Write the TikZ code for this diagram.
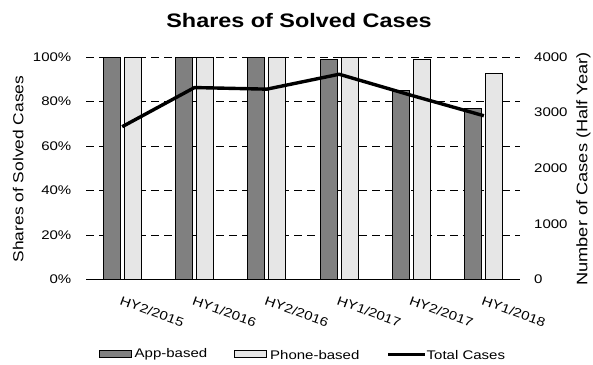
\documentclass[tikz,border=0pt]{standalone}
\usepackage{fontspec}
\setmainfont{Liberation Sans}[FakeStretch=1.2]
\usetikzlibrary{calc}

\definecolor{appgray}{RGB}{128,128,128}
\definecolor{phonegray}{RGB}{230,230,230}
\tikzset{
  appbar/.style={draw=black, line width=0.9pt, fill=appgray},
  phonebar/.style={draw=black, line width=0.9pt, fill=phonegray},
  gridline/.style={black, line width=0.9pt, dash pattern=on 8pt off 5pt},
  totalline/.style={black, line width=3.4pt, line join=round},
  ticklabel/.style={font=\fontsize{12.5}{14}\selectfont, inner sep=0pt},
  axistitle/.style={font=\fontsize{14.5}{16}\selectfont, inner sep=0pt, rotate=90},
}

\begin{document}
\begin{tikzpicture}[x=1pt, y=-1pt]
\useasboundingbox (0,0) rectangle (593,364);
% Titulo
\node[font=\bfseries\fontsize{19.5}{22}\selectfont, inner sep=0pt] (title) at (299,20.5) {Shares of Solved Cases};
% Lineas de la cuadricula
\foreach \v in {20,40,60,80,100} {
  \draw[gridline] (86,{279.5-2.225*\v}) -- (520,{279.5-2.225*\v});
}
% Eje izquierdo
\foreach \v in {0,20,40,60,80,100} {
  \node[ticklabel, anchor=east] (left\v) at (71.5,{279.5-2.225*\v}) {\v\%};
}
% Eje derecho
\foreach \n in {0,1000,2000,3000,4000} {
  \node[ticklabel, anchor=west] (right\n) at (534,{279.5-\n/4000*222.5}) {\n};
}
% Barras
\foreach \i/\a/\p/\n/\lab in {1/100/100/2747/HY2\slash 2015, 2/100/100/3451/HY1\slash 2016,
    3/100/100/3422/HY2\slash 2016, 4/98.7/100/3690/HY1\slash 2017,
    5/84.8/98.7/3310/HY2\slash 2017, 6/76.9/92.7/2944/HY1\slash 2018} {
  \pgfmathsetmacro{\c}{122.2+72.33*(\i-1)}
  \draw[appbar] (\c-19,279.5) rectangle (\c-2,{279.5-2.225*\a});
  \draw[phonebar] (\c+2,279.5) rectangle (\c+19,{279.5-2.225*\p});
  \coordinate (t\i) at (\c,{279.5-\n/4000*222.5});
  \node[ticklabel, rotate=-20, anchor=north west] (cat\i) at (\c,295.5) {\lab};
}
% Eje x
\draw[line width=1.2pt] (86,279.5) -- (520,279.5);
% Total Cases
\draw[totalline] (t1) -- (t2) -- (t3) -- (t4) -- (t5) -- (t6);
% Titulos de los ejes
\node[axistitle] (ytitle) at (18.3,169) {Shares of Solved Cases};
\node[axistitle, font=\fontsize{15.2}{17}\selectfont] (y2title) at (583.5,169) {Number of Cases (Half Year)};
% Leyenda
\draw[appbar] (99.3,350) rectangle (131.7,357.5);
\node[ticklabel, anchor=west] (kapp) at (134.5,354.7) {App-based};
\draw[phonebar] (234.3,350) rectangle (266.7,357.5);
\node[ticklabel, anchor=west] (kphone) at (270,354.7) {Phone-based};
\coordinate (kl) at (388.3,354.5);
\coordinate (kr) at (425,354.5);
\draw[totalline] (kl) -- (kr);
\node[ticklabel, anchor=west] (ktotal) at (426.5,354.7) {Total Cases};
\end{tikzpicture}
\end{document}
